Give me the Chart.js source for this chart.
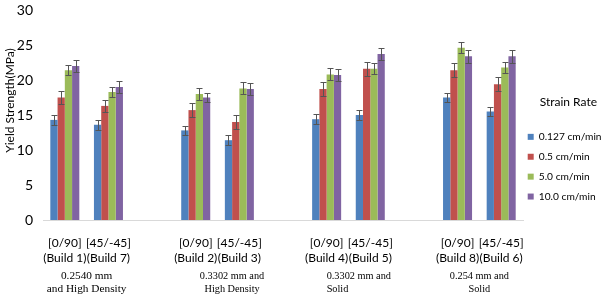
<!DOCTYPE html>
<html>
<head>
<meta charset="utf-8">
<script src="https://cdn.jsdelivr.net/npm/chart.js@4/dist/chart.umd.min.js"></script>
<style>
  html, body { margin: 0; padding: 0; background: #fff; }
  #wrap { width: 602px; height: 297px; }
</style>
</head>
<body>
<div id="wrap"><canvas id="strengthChart"></canvas></div>
<script>
// categories (blank slots keep the gaps between the four build groups)
const categories = [
  ['[0/90]', '(Build 1)'], ['[45/-45]', '(Build 7)'], '',
  ['[0/90]', '(Build 2)'], ['[45/-45]', '(Build 3)'], '',
  ['[0/90]', '(Build 4)'], ['[45/-45]', '(Build 5)'], '',
  ['[0/90]', '(Build 8)'], ['[45/-45]', '(Build 6)']
];
const groupLabels = [
  ['0.2540 mm', 'and High Density'],
  ['0.3302 mm and', 'High Density'],
  ['0.3302 mm and', 'Solid'],
  ['0.254 mm and', 'Solid']
];
const seriesNames = ['0.127 cm/min', '0.5 cm/min', '5.0 cm/min', '10.0 cm/min'];
const yTitle = 'Yield Strength(MPa)';

// yield strength (MPa)
const rate0127 = [14.3, 13.6, null, 12.8, 11.4, null, 14.4, 15.0, null, 17.5, 15.5];
const rate05   = [17.5, 16.3, null, 15.7, 14.0, null, 18.7, 21.6, null, 21.4, 19.4];
const rate50   = [21.4, 18.3, null, 18.0, 18.8, null, 20.8, 21.6, null, 24.6, 21.8];
const rate100  = [22.0, 19.0, null, 17.5, 18.7, null, 20.7, 23.7, null, 23.4, 23.4];

// error bar half-widths (MPa)
const err0127 = [0.7, 0.75, null, 0.7, 0.7, null, 0.7, 0.7, null, 0.7, 0.7];
const err05   = [0.9, 0.9, null, 1.0, 1.0, null, 1.0, 1.0, null, 1.0, 1.0];
const err50   = [0.75, 0.75, null, 0.8, 0.85, null, 0.85, 0.8, null, 0.8, 0.8];
const err100  = [0.8, 0.85, null, 0.7, 0.9, null, 0.9, 0.9, null, 0.9, 0.9];

const yTicks = [0, 5, 10, 15, 20, 25, 30];

const colors = ['#4F81BD', '#C0504D', '#9BBB59', '#8064A2'];
const values = [rate0127, rate05, rate50, rate100];
const errors = [err0127, err05, err50, err100];

// draws the +/- error bars through the chart's own scales
const errorBars = {
  id: 'errorBars',
  afterDatasetsDraw(chart) {
    const ctx = chart.ctx;
    const y = chart.scales.y;
    ctx.save();
    ctx.strokeStyle = '#555';
    ctx.lineWidth = 1;
    chart.data.datasets.forEach((ds, i) => {
      const meta = chart.getDatasetMeta(i);
      meta.data.forEach((bar, j) => {
        const v = ds.data[j];
        const e = ds.errors[j];
        if (v == null || e == null) return;
        const x = Math.round(bar.x) + 0.5;
        const top = Math.round(y.getPixelForValue(v + e)) + 0.5;
        const bot = Math.round(y.getPixelForValue(v - e)) + 0.5;
        ctx.beginPath();
        ctx.moveTo(x, top); ctx.lineTo(x, bot);
        ctx.moveTo(x - 3, top); ctx.lineTo(x + 3, top);
        ctx.moveTo(x - 3, bot); ctx.lineTo(x + 3, bot);
        ctx.stroke();
      });
    });
    ctx.restore();
  }
};

// serif captions under each pair of builds, plus the y axis title
const captions = {
  id: 'captions',
  afterDraw(chart) {
    const ctx = chart.ctx;
    const x = chart.scales.x;
    const base = chart.chartArea.bottom;
    const place = [
      { align: 'center', dx: 0, size: 11.3 },
      { align: 'center', dx: 14.5, size: 10.3 },
      { align: 'left', dx: 0, size: 10.3 },
      { align: 'center', dx: 0, size: 10.3 }
    ];
    ctx.save();
    ctx.fillStyle = '#000';
    ctx.textBaseline = 'middle';
    groupLabels.forEach((lines, g) => {
      const a = x.getPixelForValue(g * 3);
      const b = x.getPixelForValue(g * 3 + 1);
      const p = place[g];
      const cx = (p.align === 'left' ? a : (a + b) / 2) + p.dx;
      ctx.font = p.size + 'px "Liberation Serif", "DejaVu Serif", serif';
      ctx.textAlign = p.align;
      lines.forEach((t, k) => ctx.fillText(t, cx, base + 56 + k * 13));
    });

    // rotated axis title sits a bit above the plot's middle in the original
    ctx.translate(10.5, 100.5);
    ctx.rotate(-Math.PI / 2);
    ctx.textAlign = 'center';
    ctx.font = '12px Lato, "Noto Sans", sans-serif';
    ctx.fillText(yTitle, 0, 0);
    ctx.restore();
  }
};

// nudge the legend block to where the original has it
const legendShift = {
  id: 'legendShift',
  afterLayout(chart) {
    chart.legend.left -= 5;
    chart.legend.top += 5;
    chart.legend.bottom += 5;
  }
};

const ctx = document.getElementById('strengthChart').getContext('2d');
const strengthChart = new Chart(ctx, {
  type: 'bar',
  data: {
    labels: categories,
    datasets: values.map((d, i) => ({
      label: seriesNames[i],
      data: d,
      errors: errors[i],
      backgroundColor: colors[i],
      borderWidth: 0,
      barPercentage: 1,
      categoryPercentage: 0.665
    }))
  },
  options: {
    responsive: true,
    maintainAspectRatio: false,
    animation: false,
    layout: { padding: 0 },
    plugins: {
      tooltip: { enabled: false },
      legend: {
        position: 'right',
        align: 'center',
        maxWidth: 79,
        title: {
          display: true,
          text: 'Strain Rate',
          position: 'end',
          color: '#000',
          font: { family: 'Lato, "Noto Sans", sans-serif', size: 12 },
          padding: { top: 0, bottom: 12 }
        },
        labels: {
          boxWidth: 6,
          boxHeight: 6,
          padding: 9.7,
          color: '#000',
          font: { family: 'Lato, "Noto Sans", sans-serif', size: 10.2 }
        }
      }
    },
    scales: {
      x: {
        grid: { display: false, drawTicks: false },
        border: { display: true, color: '#d9d9d9', width: 1 },
        ticks: {
          autoSkip: false,
          maxRotation: 0,
          padding: 16,
          color: '#000',
          font: { family: 'Lato, "Noto Sans", sans-serif', size: 12, lineHeight: 1.25 }
        },
        afterFit(scale) { scale.height = 77; }
      },
      y: {
        min: 0,
        max: 30,
        afterBuildTicks(scale) { scale.ticks = yTicks.map(v => ({ value: v })); },
        grid: { display: false, drawTicks: false },
        border: { display: false },
        ticks: {
          padding: 10,
          color: '#000',
          font: { family: 'Lato, "Noto Sans", sans-serif', size: 14 }
        },
        afterFit(scale) {
          scale.width = 43;
          scale.paddingTop = 10;
          scale.paddingBottom = 8;
        }
      }
    }
  },
  plugins: [errorBars, captions, legendShift]
});
</script>
</body>
</html>
